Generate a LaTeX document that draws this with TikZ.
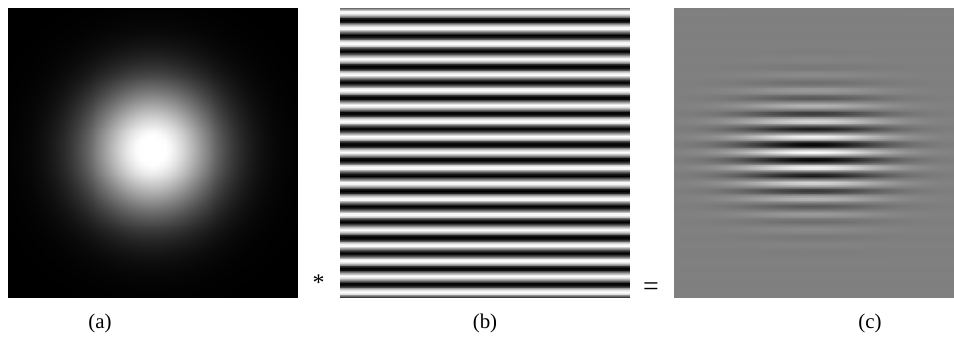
\documentclass[tikz,border=0pt]{standalone}
\usepackage{fontspec}
\setmainfont{Liberation Serif}
\usepackage{pgfplots}
\pgfplotsset{compat=1.18}
\tikzset{
  lbl/.style={font=\fontsize{21}{24}\selectfont, inner sep=0pt, anchor=base},
  op/.style={inner sep=0pt, anchor=center}
}
\pgfplotsset{
  panelaxis/.style={anchor=south west, scale only axis, hide axis,
    enlargelimits=false, view={0}{90}, y dir=reverse,
    colormap/blackwhite, point meta min=0, point meta max=1},
  img/.style={surf, shader=interp, point meta=z}
}
\begin{document}
\begin{tikzpicture}[x=1bp,y=-1bp]
\useasboundingbox (0,0) rectangle (954,336);
% (a) Gaussian
\begin{axis}[panelaxis, at={(8,297)}, width=290bp, height=289bp,
  xmin=8, xmax=298, ymin=8, ymax=297]
\addplot3[img, domain=8:298, y domain=8:297, samples=60, samples y=60]
  {min(1, 1.05*exp(-((x-152)^2+(y-150)^2)/(2*46^2)))};
\end{axis}
% (b) stripes
\begin{axis}[panelaxis, at={(340,297)}, width=289bp, height=289bp,
  xmin=340, xmax=629, ymin=8, ymax=297]
\addplot3[img, domain=340:629, y domain=8:297, samples=2, samples y=170]
  {0.5-0.5*cos(360*(y-20)/15.53)};
\end{axis}
% (c) Gabor
\begin{axis}[panelaxis, at={(674,297)}, width=280bp, height=289bp,
  xmin=674, xmax=954, ymin=8, ymax=297]
\addplot3[img, domain=674:954, y domain=8:297, samples=45, samples y=170]
  {0.5-0.5*exp(-(x-812)^2/(2*50^2)-(y-152)^2/(2*35^2))*cos(360*(y-20)/15.53)};
\end{axis}
\node[lbl] (la) at (100,328) {(a)};
\node[lbl] (lb) at (485,328) {(b)};
\node[lbl] (lc) at (870,328) {(c)};
\node[op, font=\fontsize{24}{26}\selectfont] (star) at (318.5,283) {*};
\node[op, font=\fontsize{28}{30}\selectfont] (eq) at (651,289.5) {=};
\end{tikzpicture}
\end{document}
